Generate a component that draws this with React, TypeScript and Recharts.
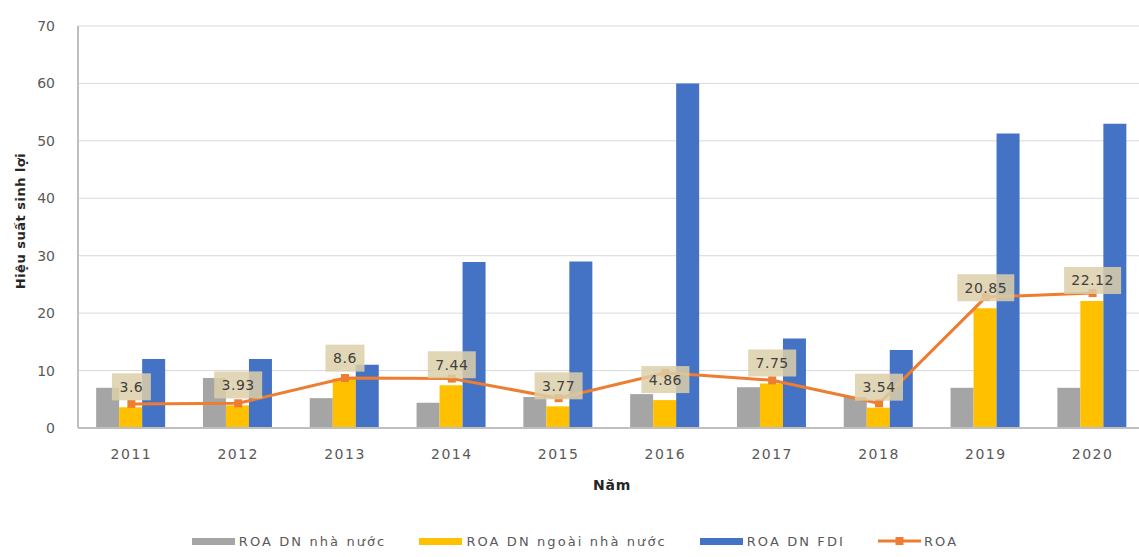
import {
  ComposedChart,
  Bar,
  Line,
  XAxis,
  YAxis,
  CartesianGrid,
  Legend,
} from 'recharts';

const years = ['2011', '2012', '2013', '2014', '2015', '2016', '2017', '2018', '2019', '2020'];
const roaState = [7.0, 8.7, 5.2, 4.4, 5.4, 5.9, 7.1, 5.4, 7.0, 7.0];
const roaNonState = [3.6, 3.93, 8.6, 7.44, 3.77, 4.86, 7.75, 3.54, 20.85, 22.12];
const roaFdi = [12.0, 12.0, 11.0, 28.9, 29.0, 60.0, 15.6, 13.6, 51.3, 53.0];
const roaTotal = [4.2, 4.3, 8.7, 8.6, 5.2, 9.6, 8.3, 4.3, 22.8, 23.5];
const yTicks = [0, 10, 20, 30, 40, 50, 60, 70];

const data = years.map((year, i) => ({
  year,
  state: roaState[i],
  nonState: roaNonState[i],
  fdi: roaFdi[i],
  roa: roaTotal[i],
}));

const GRAY = '#a5a5a5';
const YELLOW = '#ffc000';
const BLUE = '#4472c4';
const ORANGE = '#ed7d31';
const FONT = '"DejaVu Sans", sans-serif';

const legendItems = [
  { name: 'ROA DN nhà nước', color: GRAY, type: 'bar' },
  { name: 'ROA DN ngoài nhà nước', color: YELLOW, type: 'bar' },
  { name: 'ROA DN FDI', color: BLUE, type: 'bar' },
  { name: 'ROA', color: ORANGE, type: 'line' },
];

// label box drawn above the top of the yellow bar (the hidden line's point sits at its top centre)
function ValueBox(props: any) {
  const { cx, cy, payload, index } = props;
  const text = String(payload.nonState);
  const boxW = text.length * 9 + 12;
  const boxH = 27;
  const bottom = cy - 7;
  return (
    <g key={index}>
      <rect
        x={cx - boxW / 2}
        y={bottom - boxH}
        width={boxW}
        height={boxH}
        fill="#dccfa8"
        fillOpacity={0.85}
      />
      <text
        x={cx}
        y={bottom - boxH / 2 + 5}
        textAnchor="middle"
        fontSize={14}
        fill="#404040"
        style={{ letterSpacing: 0.5 }}
      >
        {text}
      </text>
    </g>
  );
}

function SquareDot(props: any) {
  const { cx, cy, index } = props;
  return <rect key={index} x={cx - 4} y={cy - 4} width={8} height={8} fill={ORANGE} />;
}

function ChartLegend() {
  return (
    <div
      style={{
        display: 'flex',
        justifyContent: 'center',
        alignItems: 'center',
        height: 20,
        paddingLeft: 4,
        fontSize: 13,
        color: '#595959',
        letterSpacing: 2.1,
        fontFamily: FONT,
      }}
    >
      {legendItems.map((item, i) => (
        <div
          key={item.name}
          style={{ display: 'flex', alignItems: 'center', marginLeft: i === 0 ? 0 : 33 }}
        >
          {item.type === 'bar' ? (
            <div style={{ width: 43, height: 7, background: item.color, marginRight: 4 }} />
          ) : (
            <svg width={43} height={10} style={{ marginRight: 3 }}>
              <line x1={0} y1={5} x2={43} y2={5} stroke={item.color} strokeWidth={3} />
              <rect x={17.5} y={1} width={8} height={8} fill={item.color} />
            </svg>
          )}
          <span>{item.name}</span>
        </div>
      ))}
    </div>
  );
}

export default function App() {
  return (
    <div
      style={{
        position: 'absolute',
        left: 0,
        top: 0,
        width: 1139,
        height: 557,
        overflow: 'hidden',
        background: '#fff',
        fontFamily: FONT,
      }}
    >
      <ComposedChart
        width={1146}
        height={557}
        data={data}
        margin={{ top: 26, right: 0, bottom: 6, left: 0 }}
        barCategoryGap="17%"
        barGap={0}
      >
        <CartesianGrid vertical={false} stroke="#d9d9d9" />
        <XAxis
          dataKey="year"
          height={103}
          tickLine={false}
          tickSize={0}
          tickMargin={21}
          axisLine={{ stroke: '#bfbfbf', strokeWidth: 2 }}
          tick={{ fill: '#595959', fontSize: 14, letterSpacing: 1.5 }}
          label={{
            value: 'Năm',
            position: 'insideTop',
            offset: 52,
            style: { fontWeight: 'bold', fontSize: 14, fill: '#262626', letterSpacing: 0.8 },
          }}
        />
        <YAxis
          domain={[0, 70]}
          ticks={yTicks}
          width={78}
          tickLine={false}
          tickSize={0}
          tickMargin={23}
          axisLine={{ stroke: '#bfbfbf', strokeWidth: 2 }}
          tick={{ fill: '#595959', fontSize: 14 }}
          label={{
            value: 'Hiệu suất sinh lợi',
            angle: -90,
            position: 'insideLeft',
            offset: 20,
            dy: -6,
            style: {
              textAnchor: 'middle',
              fontWeight: 'bold',
              fontSize: 13,
              fill: '#262626',
              letterSpacing: 0.5,
            },
          }}
        />
        <Legend verticalAlign="bottom" content={<ChartLegend />} />
        <Bar dataKey="state" name="ROA DN nhà nước" fill={GRAY} isAnimationActive={false} />
        <Bar dataKey="nonState" name="ROA DN ngoài nhà nước" fill={YELLOW} isAnimationActive={false} />
        <Bar dataKey="fdi" name="ROA DN FDI" fill={BLUE} isAnimationActive={false} />
        <Line
          dataKey="roa"
          name="ROA"
          stroke={ORANGE}
          strokeWidth={3}
          dot={<SquareDot />}
          activeDot={false}
          isAnimationActive={false}
        />
        <Line
          dataKey="nonState"
          legendType="none"
          stroke="none"
          dot={<ValueBox />}
          activeDot={false}
          isAnimationActive={false}
        />
      </ComposedChart>
    </div>
  );
}
